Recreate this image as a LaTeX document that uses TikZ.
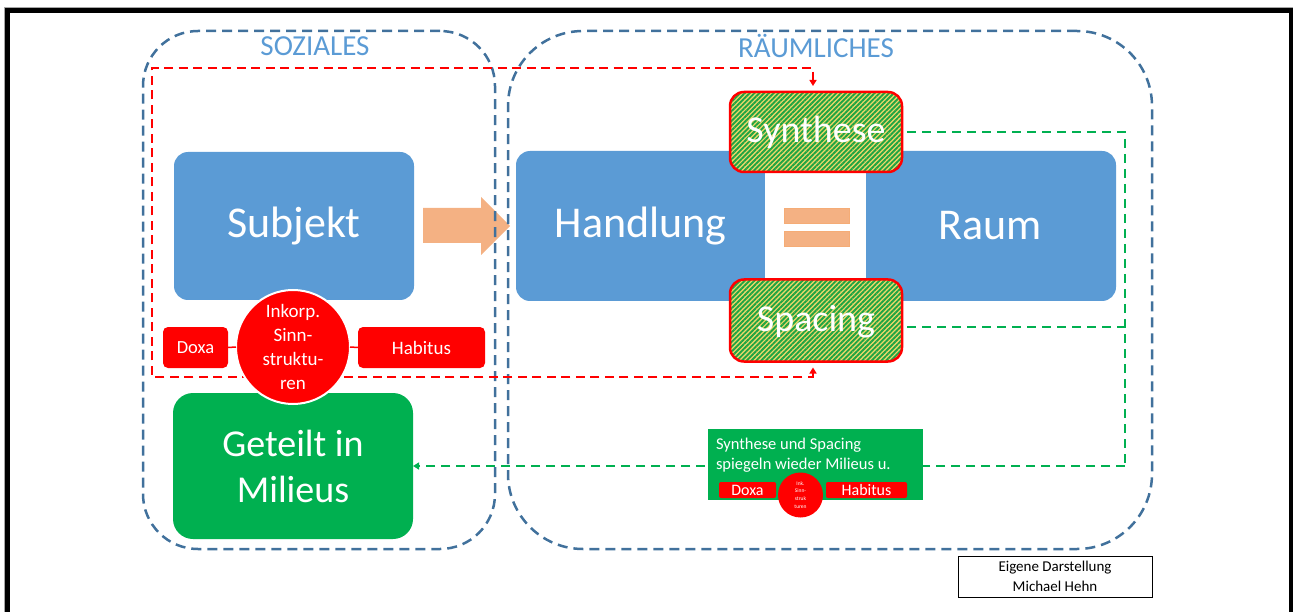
\documentclass[tikz,border=0pt]{standalone}
\usepackage{fontspec}
\setmainfont{Carlito}
\usetikzlibrary{patterns.meta,arrows.meta}

\definecolor{boxblue}{HTML}{5B9BD5}
\definecolor{frameblue}{HTML}{41719C}
\definecolor{salmon}{HTML}{F4B183}
\definecolor{mgreen}{HTML}{00B050}
\definecolor{hatchyellow}{HTML}{EED86A}
\definecolor{hatchgreen}{HTML}{1FA443}

\tikzset{
  every node/.style={inner sep=0pt, outer sep=0pt},
  bluebox/.style={rectangle, fill=boxblue, rounded corners=14pt, text=white},
  greenbox/.style={rectangle, fill=mgreen, text=white},
  redbox/.style={rectangle, fill=red, text=white, rounded corners=5pt},
  hatchbox/.style={rectangle, rounded corners=14pt, draw=red, line width=2.5pt,
    preaction={fill=hatchyellow},
    pattern={Lines[angle=45,distance=3.4pt,line width=1.9pt]}, pattern color=hatchgreen,
    text=white, font=\fontsize{38}{44}\selectfont, text height=27pt, text depth=5pt},
  container/.style={rectangle, draw=frameblue, line width=2.5pt, dash pattern=on 10pt off 6pt},
  titletext/.style={text=boxblue, font=\fontsize{29}{34}\selectfont},
  reddash/.style={draw=red, line width=2.2pt, dash pattern=on 9pt off 5.5pt},
  greendash/.style={draw=mgreen, line width=2.2pt, dash pattern=on 9pt off 6pt},
  bigtext/.style={text=white, font=\fontsize{44}{50}\selectfont},
  >={Triangle[width=7pt,length=6pt]}
}

\begin{document}
\begin{tikzpicture}[x=1pt,y=-1pt]
\useasboundingbox (0,0) rectangle (1293,612);

% outer frame
\draw[gray!70, line width=1pt] (4.5,612) -- (4.5,7.5) -- (1293,7.5);
\draw[black, line width=4.8pt] (7.5,612) -- (7.5,10.5) -- (1291.2,10.5) -- (1291.2,612);

% block arrow from Subjekt to Handlung
\fill[salmon] (423,208) -- (481,208) -- (481,197) -- (510,226) -- (481,255) -- (481,243) -- (423,243) -- cycle;

% Handlung = Raum band
\node[bluebox, minimum width=600pt, minimum height=150pt] (band) at (816,226) {};
\fill[white] (765,172) rectangle (866,280);
\node[bigtext] (handlung) at (640.5,226) {Handlung};
\node[bigtext] (raum) at (990.5,226) {Raum};
\filldraw[fill=salmon, draw=salmon!90!orange, line width=0.6pt] (784,208) rectangle (849,223);
\filldraw[fill=salmon, draw=salmon!90!orange, line width=0.6pt] (784,231) rectangle (849,246);

% Subjekt and milieus
\node[bluebox, minimum width=240pt, minimum height=148pt, bigtext] (subjekt) at (294,226) {Subjekt};
\node[greenbox, rounded corners=20pt, minimum width=240pt, minimum height=146pt, align=center,
      font=\fontsize{38}{46}\selectfont] (milieus) at (293,466) {Geteilt in\\Milieus};

% dashed containers
\node[container, rounded corners=55pt, minimum width=352pt, minimum height=518pt] (sozial) at (319,290) {};
\node[container, rounded corners=75pt, minimum width=644pt, minimum height=518pt] (raeuml) at (830,290) {};
\node[titletext] (tsozial) at (315,46) {SOZIALES};
\node[titletext] (traeuml) at (816,46) {RÄUMLICHES};

% Synthese and Spacing
\node[hatchbox, minimum width=172pt, minimum height=80pt] (synth) at (816,132) {Synthese};
\node[hatchbox, minimum width=172pt, minimum height=82pt] (spacing) at (816,320.5) {Spacing};

% red feedback loop around the social side
\coordinate (rlow) at (152,377);
\coordinate (rup) at (152,68);
\draw[reddash, <->, shorten <=6pt, shorten >=6pt]
  ([xshift=-3pt]spacing.south) |- (rlow) -- (rup) -| ([xshift=-3pt]synth.north);

% green return path to the milieus
\coordinate (gturn) at (1125,466);
\draw[greendash, shorten <=5pt] (synth.east) -| (gturn);
\draw[greendash, shorten <=5pt] ([yshift=-6.5pt]spacing.east) -- ([yshift=-6.5pt]spacing.east -| gturn);
\draw[greendash, ->] (gturn) -- (milieus.east);

% Doxa - incorporated structures - Habitus
\node[redbox, minimum width=65pt, minimum height=41pt, font=\fontsize{18.5}{22}\selectfont] (doxa) at (195.5,347.5) {Doxa};
\node[redbox, minimum width=127pt, minimum height=41pt, font=\fontsize{19}{22}\selectfont] (habitus) at (421.5,347.5) {Habitus};
\node[circle, fill=red, draw=white, line width=2pt, minimum size=114pt, text=white, align=center,
      font=\fontsize{19}{24}\selectfont] (inkorp) at (293,347) {Inkorp.\\Sinn-\\struktu-\\ren};
\draw[red, line width=1.5pt] (doxa.east) -- (inkorp.west);
\draw[red, line width=1.5pt] (inkorp.east) -- (habitus.west);

% summary box
\node[greenbox, minimum width=215pt, minimum height=71pt] (summary) at (815.5,464.5) {};
\node[anchor=west, align=left, text=white, font=\fontsize{16.5}{20}\selectfont] (sumtext) at (716,455) {Synthese und Spacing\\spiegeln wieder Milieus u.};
\node[redbox, rounded corners=2pt, minimum width=57pt, minimum height=16pt, font=\fontsize{16}{18}\selectfont] (sdoxa) at (747.5,490) {Doxa};
\node[redbox, rounded corners=2pt, minimum width=81pt, minimum height=16pt, font=\fontsize{16}{18}\selectfont] (shabitus) at (866.5,490) {Habitus};
\node[circle, fill=red, minimum size=45pt, text=white, align=center,
      font=\fontsize{5.5}{7.8}\selectfont] (sinkorp) at (800.5,495) {Ink.\\Sinn-\\struk\\turen};

% credit
\node[draw=black, line width=0.8pt, minimum width=194pt, minimum height=41pt, align=center,
      font=\fontsize{15}{20}\selectfont] (credit) at (1055,576.5) {Eigene Darstellung\\Michael Hehn};
\end{tikzpicture}
\end{document}
